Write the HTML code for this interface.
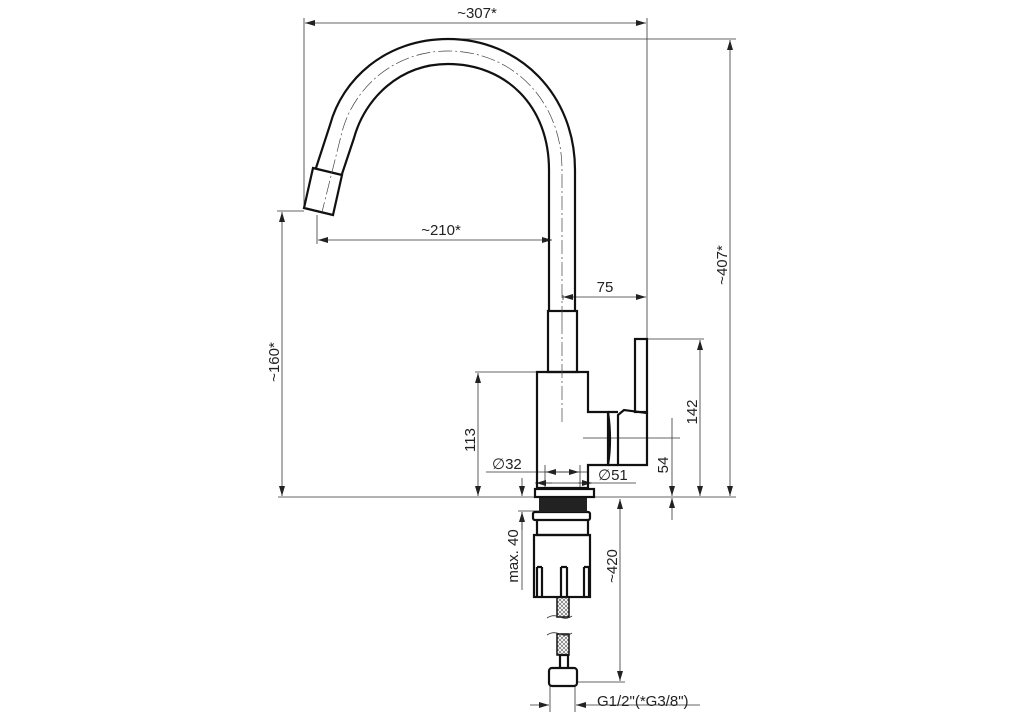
<!DOCTYPE html>
<html><head><meta charset="utf-8"><style>
html,body{margin:0;padding:0;background:#fff;}
svg{display:block;}
text{font-family:"Liberation Sans",sans-serif;font-size:15px;fill:#222;}
.t{stroke:#333;stroke-width:0.8;fill:none;}
.k{stroke:#111;stroke-width:2.2;fill:none;}
.c{stroke:#444;stroke-width:0.7;fill:none;stroke-dasharray:14 3 2 3;}
</style></head><body>
<svg width="1024" height="724" viewBox="0 0 1024 724">
<defs>
<marker id="a" viewBox="0 0 10 6" refX="10" refY="3" markerWidth="10" markerHeight="6" orient="auto-start-reverse" markerUnits="userSpaceOnUse"><path d="M0,0L10,3L0,6z" fill="#222"/></marker>
<pattern id="h" width="4" height="4" patternUnits="userSpaceOnUse"><path d="M0,0L4,4M4,0L0,4" stroke="#555" stroke-width="0.6"/></pattern>
</defs>
<g class="t">
<line x1="304" y1="18" x2="304" y2="208"/><line x1="647" y1="18" x2="647" y2="340"/>
<line x1="305" y1="23" x2="646" y2="23" marker-start="url(#a)" marker-end="url(#a)"/>
<line x1="448" y1="39" x2="736" y2="39"/>
<line x1="730" y1="40" x2="730" y2="496" marker-start="url(#a)" marker-end="url(#a)"/>
<line x1="278" y1="497" x2="736" y2="497"/>
<line x1="277" y1="211" x2="304" y2="211"/>
<line x1="282" y1="212" x2="282" y2="496" marker-start="url(#a)" marker-end="url(#a)"/>
<line x1="317" y1="215" x2="317" y2="244"/>
<line x1="318" y1="240" x2="552" y2="240" marker-start="url(#a)" marker-end="url(#a)"/>
<line x1="563" y1="295" x2="563" y2="300"/>
<line x1="563" y1="297" x2="646" y2="297" marker-start="url(#a)" marker-end="url(#a)"/>
<line x1="647" y1="339" x2="704" y2="339"/>
<line x1="700" y1="340" x2="700" y2="496" marker-start="url(#a)" marker-end="url(#a)"/>
<line x1="583" y1="438" x2="680" y2="438"/>
<line x1="672" y1="418" x2="672" y2="496" marker-end="url(#a)"/>
<line x1="672" y1="520" x2="672" y2="498" marker-end="url(#a)"/>
<line x1="475" y1="372" x2="537" y2="372"/>
<line x1="478" y1="373" x2="478" y2="496" marker-start="url(#a)" marker-end="url(#a)"/>
<line x1="486" y1="472" x2="589" y2="472"/>
<line x1="545" y1="465" x2="545" y2="488"/><line x1="580" y1="465" x2="580" y2="488"/>
<line x1="546" y1="472" x2="564" y2="472" marker-start="url(#a)"/><line x1="562" y1="472" x2="579" y2="472" marker-end="url(#a)"/>
<line x1="535" y1="483" x2="636" y2="483"/>
<line x1="536" y1="483" x2="552" y2="483" marker-start="url(#a)"/><line x1="578" y1="483" x2="592" y2="483" marker-end="url(#a)"/>
<line x1="522" y1="478" x2="522" y2="496" marker-end="url(#a)"/>
<line x1="522" y1="530" x2="522" y2="512" marker-end="url(#a)"/>
<line x1="518" y1="511" x2="540" y2="511"/>
<line x1="522" y1="512" x2="522" y2="590"/>
<line x1="620" y1="499" x2="620" y2="681" marker-start="url(#a)" marker-end="url(#a)"/>
<line x1="577" y1="682" x2="625" y2="682"/>
<line x1="550" y1="686" x2="550" y2="712"/><line x1="575" y1="686" x2="575" y2="712"/>
<line x1="530" y1="705" x2="549" y2="705" marker-end="url(#a)"/>
<line x1="700" y1="705" x2="576" y2="705" marker-end="url(#a)"/>
</g>
<g class="k">
<path d="M575,310 L575,170 C575,95 520,39 448,39 C385,39 342,80 330,125 L316,168"/>
<path d="M549,310 L549,170 C549,105 505,64 448,64 C400,64 365,98 354,138 L342,174"/>
<polygon points="313,168 342,175 333,215 304,208"/>
<rect x="548" y="311" width="29" height="61"/>
<path d="M537,372 L588,372 L588,412 L608,412 L608,465 L588,465 L588,488 L537,488 Z"/>
<path d="M608,412 Q612,440 608,465 M608,412 L618,412 M608,465 L618,465"/>
<path d="M618,415 L624,410 L647,413 L647,465 L618,465 Z"/>
<rect x="635" y="339" width="12" height="73"/>
<rect x="535" y="489" width="59" height="8"/>
<rect x="533" y="512" width="57" height="8" rx="2"/>
<path d="M537,520 L537,535 L588,535 L588,520"/>
<rect x="534" y="535" width="56" height="62"/>
<path d="M537,567 L537,597 M542,567 L542,597 M561,567 L561,597 M567,567 L567,597 M584,567 L584,597 M589,567 L589,597 M537,567 L542,567 M561,567 L567,567 M584,567 L589,567"/>
<rect x="549" y="668" width="28" height="18" rx="3"/>
<path d="M560,668 L560,655 L568,655 L568,668"/>
</g>
<rect x="539" y="498" width="48" height="14" fill="#222"/>
<rect x="557" y="597" width="12" height="20" fill="url(#h)" stroke="#111" stroke-width="1.5"/>
<rect x="557" y="634" width="12" height="21" fill="url(#h)" stroke="#111" stroke-width="1.5"/>
<path d="M547,618 Q553,614 560,617 Q566,620 572,616 M547,635 Q553,631 560,634 Q566,637 572,633" class="t"/>
<path class="c" d="M562,320 L562,170 C562,100 512,51 448,51 C392,51 353,90 342,132 L322,212"/>
<line class="c" x1="562" y1="320" x2="562" y2="425"/>
<text x="477" y="18" text-anchor="middle">~307*</text>
<text x="441" y="235" text-anchor="middle">~210*</text>
<text x="605" y="292" text-anchor="middle">75</text>
<text x="492" y="469">∅32</text>
<text x="598" y="480">∅51</text>
<text x="597" y="706">G1/2"(*G3/8")</text>
<g text-anchor="middle">
<text transform="translate(727,265) rotate(-90)">~407*</text>
<text transform="translate(279,362) rotate(-90)">~160*</text>
<text transform="translate(475,440) rotate(-90)">113</text>
<text transform="translate(697,412) rotate(-90)">142</text>
<text transform="translate(668,465) rotate(-90)">54</text>
<text transform="translate(518,556) rotate(-90)">max. 40</text>
<text transform="translate(617,566) rotate(-90)">~420</text>
</g>
</svg>
</body></html>
